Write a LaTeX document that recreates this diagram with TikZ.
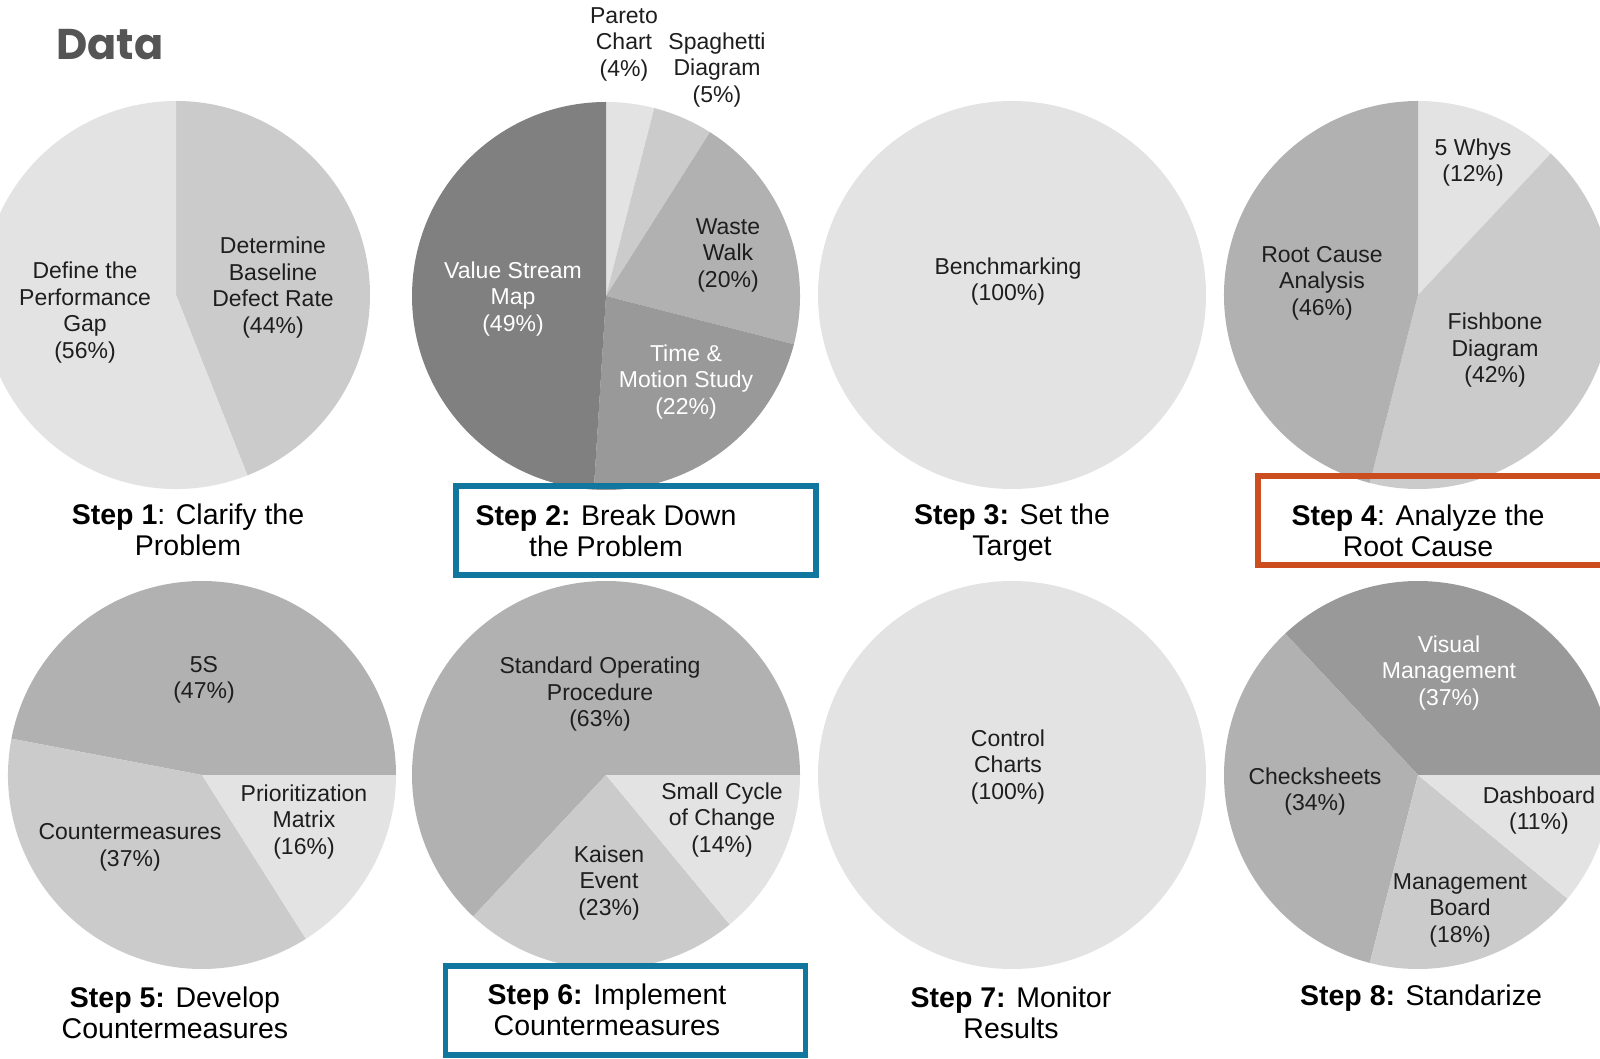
\documentclass[tikz,border=0pt]{standalone}
\usepackage{fontspec}
\setmainfont{Liberation Sans}
\newfontfamily\titlefont{Poppins}
\definecolor{gA}{HTML}{E3E3E3}
\definecolor{gB}{HTML}{CBCBCB}
\definecolor{gC}{HTML}{B1B1B1}
\definecolor{gD}{HTML}{999999}
\definecolor{gE}{HTML}{808080}
\definecolor{boxblue}{HTML}{12779E}
\definecolor{boxorange}{HTML}{CC4E1E}
\definecolor{txt}{HTML}{1E1E1E}
\definecolor{titlegray}{HTML}{555555}
\newcommand\pieslice[5]{\fill[#5] (#1) -- ++(#3:#2) arc[start angle=#3, end angle=#4, radius=#2] -- cycle;}
\begin{document}
\begin{tikzpicture}[x=1pt,y=1pt,
  lbl/.style={align=center,inner sep=0pt,text=txt,font=\fontsize{23}{26.5}\selectfont},
  wlbl/.style={lbl,text=white},
  steptext/.style={align=center,inner sep=0pt,text=black,font=\fontsize{28.5}{31}\selectfont},
  stepbox/.style={draw=#1,line width=5.5pt}]
\useasboundingbox (0,0) rectangle (1600,1058);
\clip (0,0) rectangle (1600,1058);
\fill[white] (0,0) rectangle (1600,1058);
\def\R{194pt}
% centres
\coordinate (c1) at (176,763);
\coordinate (c2) at (606,762);
\coordinate (c3) at (1012,763);
\coordinate (c4) at (1418,763);
\coordinate (c5) at (202,283);
\coordinate (c6) at (606,283);
\coordinate (c7) at (1012,283);
\coordinate (c8) at (1418,283);
% pie 1
\pieslice{c1}{\R}{90}{-68.4}{gB}
\pieslice{c1}{\R}{-68.4}{-270}{gA}
% pie 2
\pieslice{c2}{\R}{90}{75.6}{gA}
\pieslice{c2}{\R}{75.6}{57.6}{gB}
\pieslice{c2}{\R}{57.6}{-14.4}{gC}
\pieslice{c2}{\R}{-14.4}{-93.6}{gD}
\pieslice{c2}{\R}{-93.6}{-270}{gE}
% pie 3
\fill[gA] (c3) circle[radius=\R];
% pie 4
\pieslice{c4}{\R}{90}{46.8}{gA}
\pieslice{c4}{\R}{46.8}{-104.4}{gB}
\pieslice{c4}{\R}{-104.4}{-270}{gC}
% pie 5
\pieslice{c5}{\R}{0}{169.2}{gC}
\pieslice{c5}{\R}{169.2}{302.4}{gB}
\pieslice{c5}{\R}{302.4}{360}{gA}
% pie 6
\pieslice{c6}{\R}{0}{226.8}{gC}
\pieslice{c6}{\R}{226.8}{309.6}{gB}
\pieslice{c6}{\R}{309.6}{360}{gA}
% pie 7
\fill[gA] (c7) circle[radius=\R];
% pie 8
\pieslice{c8}{\R}{0}{133.2}{gD}
\pieslice{c8}{\R}{133.2}{255.6}{gC}
\pieslice{c8}{\R}{255.6}{320.4}{gB}
\pieslice{c8}{\R}{320.4}{360}{gA}
% title
\node[anchor=base west,inner sep=0pt,text=titlegray,font=\titlefont\bfseries\fontsize{43}{50}\selectfont] (title) at (56,998) {Data};
% labels
\node[lbl] (l1a) at (85,745.5) {Define the\\Performance\\Gap\\(56\%)};
\node[lbl] (l1b) at (273,770.5) {Determine\\Baseline\\Defect Rate\\(44\%)};
\node[lbl] (l2a) at (624,1014) {Pareto\\Chart\\(4\%)};
\node[lbl] (l2b) at (717,988) {Spaghetti\\Diagram\\(5\%)};
\node[lbl] (l2c) at (728,803) {Waste\\Walk\\(20\%)};
\node[wlbl] (l2d) at (513,759) {Value Stream\\Map\\(49\%)};
\node[wlbl] (l2e) at (686,676) {Time \&\\Motion Study\\(22\%)};
\node[lbl] (l3) at (1008,776.5) {Benchmarking\\(100\%)};
\node[lbl] (l4a) at (1473,895.5) {5 Whys\\(12\%)};
\node[lbl] (l4b) at (1322,775) {Root Cause\\Analysis\\(46\%)};
\node[lbl] (l4c) at (1495,707.5) {Fishbone\\Diagram\\(42\%)};
\node[lbl] (l5a) at (204,378) {5S\\(47\%)};
\node[lbl] (l5b) at (130,210.5) {Countermeasures\\(37\%)};
\node[lbl] (l5c) at (304,236) {Prioritization\\Matrix\\(16\%)};
\node[lbl] (l6a) at (600,363.5) {Standard Operating\\Procedure\\(63\%)};
\node[lbl] (l6b) at (722,238) {Small Cycle\\of Change\\(14\%)};
\node[lbl] (l6c) at (609,175) {Kaisen\\Event\\(23\%)};
\node[lbl] (l7) at (1008,291) {Control\\Charts\\(100\%)};
\node[wlbl] (l8a) at (1449,385) {Visual\\Management\\(37\%)};
\node[lbl] (l8b) at (1315,266.5) {Checksheets\\(34\%)};
\node[lbl] (l8c) at (1539,247.5) {Dashboard\\(11\%)};
\node[lbl] (l8d) at (1460,148) {Management\\Board\\(18\%)};
% captions
\node[steptext] (s1) at (188,528) {\textbf{Step 1}: Clarify the\\Problem};
\node[steptext] (s2) at (606,527) {\textbf{Step 2:} Break Down\\the Problem};
\node[steptext] (s3) at (1012,525) {\textbf{Step 3:} Set the\\Target};
\node[steptext] (s4) at (1418,527) {\textbf{Step 4}: Analyze the\\Root Cause};
\node[steptext] (s5) at (175,45) {\textbf{Step 5:} Develop\\Countermeasures};
\node[steptext] (s6) at (607,48) {\textbf{Step 6:} Implement\\Countermeasures};
\node[steptext] (s7) at (1011,45) {\textbf{Step 7:} Monitor\\Results};
\node[steptext] (s8) at (1421,60) {\textbf{Step 8:} Standarize};
% highlight boxes
\draw[stepbox=boxblue] (456,572) rectangle (816,483);
\draw[stepbox=boxorange] (1258,582) rectangle (1630,493);
\draw[stepbox=boxblue] (445.5,92) rectangle (805.5,3);
\end{tikzpicture}
\end{document}
